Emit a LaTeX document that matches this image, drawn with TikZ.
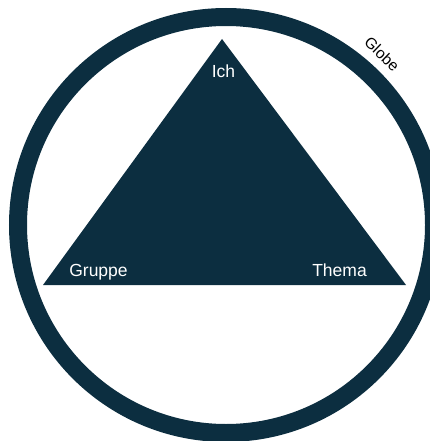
\documentclass[tikz,border=0pt]{standalone}
\usepackage{fontspec}
\setmainfont{Liberation Sans}
\definecolor{navy}{HTML}{0C2E40}
\tikzset{label text/.style={white,font=\fontsize{17.5}{20}\selectfont,inner sep=1pt,anchor=base}}
\begin{document}
\begin{tikzpicture}[x=1pt,y=-1pt,line join=miter]
  \useasboundingbox (0,0) rectangle (430,441);
  \clip (0,0) rectangle (430,441);
  \draw[navy,line width=18pt] (226,225) circle (208pt);
  \coordinate (top) at (222,39);
  \coordinate (left) at (43,285);
  \coordinate (right) at (406,285);
  \fill[navy] (top) -- (left) -- (right) -- cycle;
  \node[label text] (ich) at (223.5,78) {Ich};
  \node[label text] (gruppe) at (98.5,276) {Gruppe};
  \node[label text] (thema) at (339.5,276) {Thema};
  \node[rotate=-44,font=\fontsize{15.5}{18}\selectfont,inner sep=1pt] (globe) at (382,54) {Globe};
\end{tikzpicture}
\end{document}
